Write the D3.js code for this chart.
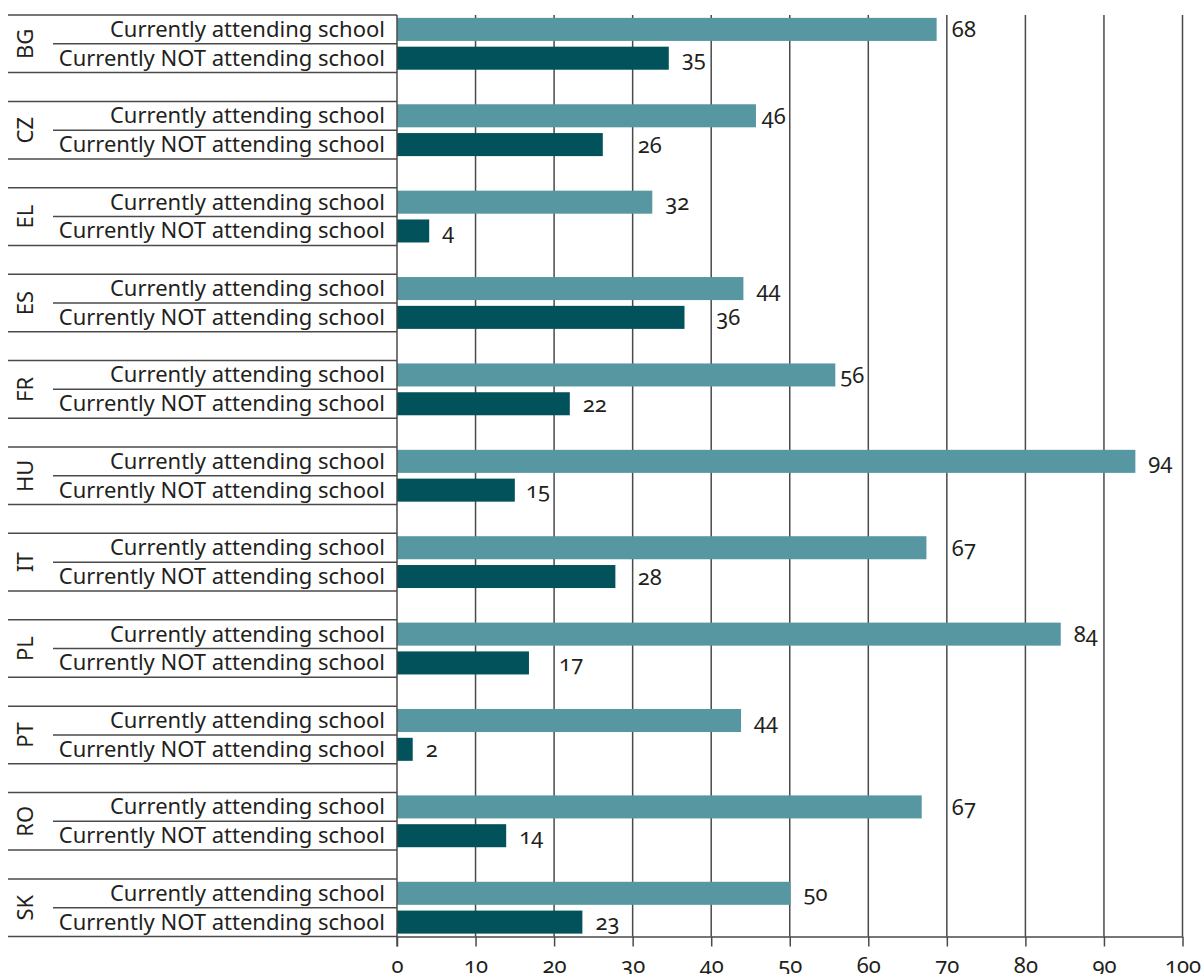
<!DOCTYPE html>
<html><head><meta charset="utf-8">
<script src="https://cdn.jsdelivr.net/npm/d3@7"></script>
<style>
html,body{margin:0;padding:0;background:#fff;}
svg text{font-family:"Noto Sans","Open Sans",sans-serif;fill:#231f20;font-variant-numeric:oldstyle-nums;}
</style></head>
<body><svg id="c" width="1201" height="974"></svg>
<script>
const countries = ["BG","CZ","EL","ES","FR","HU","IT","PL","PT","RO","SK"];
const seriesNames = ["Currently attending school","Currently NOT attending school"];
const attending = [68.7,45.7,32.5,44.1,55.8,94.0,67.4,84.5,43.8,66.8,50.1];
const notAttending = [34.6,26.2,4.1,36.6,22.0,15.0,27.8,16.8,2.0,13.9,23.6];
const attendingLabels = ["68","46","32","44","56","94","67","84","44","67","50"];
const notAttendingLabels = ["35","26","4","36","22","15","28","17","2","14","23"];
const xTicks = [0,10,20,30,40,50,60,70,80,90,100];
const colors = ["#5797a2","#02525c"];

const svg = d3.select("#c");
const x0 = 397, x1 = 1182.5, yTop = 15, yBottom = 936.5;
const slot = (yBottom - yTop) / 32;
const x = d3.scaleLinear().domain([0,100]).range([x0,x1]);
const yGroup = d3.scaleBand().domain(countries).range([yTop, yTop + 33*slot]).paddingInner(0).paddingOuter(0);
const ySub = d3.scaleBand().domain(seriesNames).range([0, 2*slot]).paddingInner(0.2).paddingOuter(0.1);

const rows = countries.map((c,i)=>({c, vals:[
  {s:seriesNames[0], v:attending[i], l:attendingLabels[i], col:colors[0]},
  {s:seriesNames[1], v:notAttending[i], l:notAttendingLabels[i], col:colors[1]}
]}));

const lineCol = "#4a4a4a";
// gridlines
svg.append("g").selectAll("line").data(xTicks.slice(1)).join("line")
  .attr("x1",d=>x(d)).attr("x2",d=>x(d)).attr("y1",yTop).attr("y2",yBottom)
  .attr("stroke",lineCol).attr("stroke-width",1.5);

// left table lines
const lg = svg.append("g");
rows.forEach(r=>{
  const t = yGroup(r.c);
  lg.append("line").attr("x1",8).attr("x2",x0).attr("y1",t).attr("y2",t).attr("stroke",lineCol).attr("stroke-width",1.5);
  lg.append("line").attr("x1",53).attr("x2",x0).attr("y1",t+slot).attr("y2",t+slot).attr("stroke",lineCol).attr("stroke-width",1.5);
  lg.append("line").attr("x1",8).attr("x2",x0).attr("y1",t+2*slot).attr("y2",t+2*slot).attr("stroke",lineCol).attr("stroke-width",1.5);
  lg.append("text").attr("transform",`translate(33,${t+slot}) rotate(-90)`)
    .attr("text-anchor","middle").style("font-size","22px").text(r.c);
});

// bars
const g = svg.append("g").selectAll("g").data(rows).join("g")
  .attr("transform",d=>`translate(0,${yGroup(d.c)})`);
g.selectAll("rect").data(d=>d.vals).join("rect")
  .attr("x",x(0)).attr("y",d=>ySub(d.s)).attr("height",ySub.bandwidth())
  .attr("width",d=>x(d.v)-x(0)).attr("fill",d=>d.col);
g.selectAll("text.cat").data(d=>d.vals).join("text").attr("class","cat")
  .attr("x",385).attr("y",d=>ySub(d.s)+ySub.bandwidth()/2+7.5)
  .attr("text-anchor","end").style("font-size","22px").text(d=>d.s);
const gridX = xTicks.slice(1).map(t=>x(t));
g.selectAll("text.val").data(d=>d.vals).join("text").attr("class","val")
  .attr("x",d=>x(d.v)+13).attr("y",d=>ySub(d.s)+ySub.bandwidth()/2+8)
  .style("font-size","22px").text(d=>d.l)
  .each(function(d){
    const w = this.getBBox().width;
    const end = x(d.v);
    let start = end + 13;
    const hit = gridX.find(gx => gx > start-3 && gx < start+w+3);
    if (hit !== undefined) {
      if (hit - w - 4 >= end + 4) start = hit - w - 4;
      else start = hit + 5;
    }
    d3.select(this).attr("x", start);
  });

// axis
svg.append("line").attr("x1",x0).attr("x2",x0).attr("y1",yTop).attr("y2",yBottom+10)
  .attr("stroke",lineCol).attr("stroke-width",1.5);
const ax = svg.append("g").attr("transform",`translate(0,${yBottom})`)
  .call(d3.axisBottom(x).tickValues(xTicks).tickSize(10).tickPadding(26).tickSizeOuter(0));
ax.select(".domain").attr("stroke",lineCol).attr("stroke-width",1.5);
ax.selectAll(".tick line").attr("stroke",lineCol).attr("stroke-width",1.5);
ax.selectAll(".tick text").style("font-size","22px").style("font-family",'"Noto Sans","Open Sans",sans-serif').attr("fill","#231f20").attr("dy","0");
</script></body></html>
